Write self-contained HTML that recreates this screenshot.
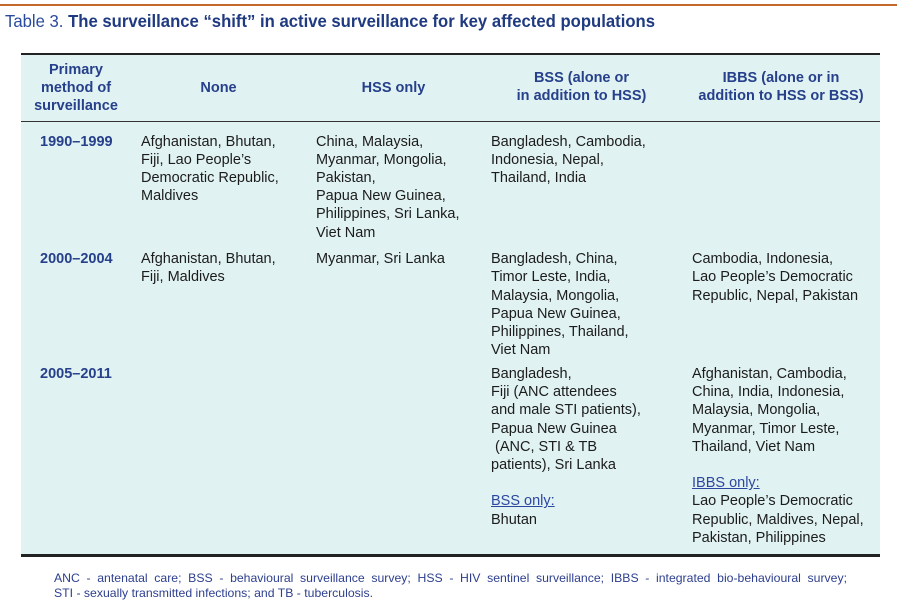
<!DOCTYPE html>
<html>
<head>
<meta charset="utf-8">
<style>
  html,body{margin:0;padding:0;background:#fff;}
  body{width:904px;height:605px;position:relative;overflow:hidden;font-family:"Liberation Sans",Arial,sans-serif;}
  .abs{position:absolute;white-space:nowrap;}
  #orange{left:0;top:4px;width:897px;height:2px;background:#c4692b;}
  #title{left:5px;top:11px;font-size:17.5px;line-height:20px;transform-origin:0 0;transform:scaleX(0.82);}
  #title .reg{color:#2a4b9b;font-weight:normal;}
  #title .b{color:#1f3a80;font-weight:bold;}
  #tbl{left:21px;top:53px;width:859px;height:504px;background:#e1f2f2;}
  .line{position:absolute;left:21px;width:859px;background:#222;}
  .hd{position:absolute;font-size:14.5px;line-height:18px;font-weight:bold;color:#26408b;text-align:center;white-space:nowrap;}
  .cell{position:absolute;font-size:14.5px;line-height:18.2px;color:#1c1c1c;white-space:nowrap;}
  .yr{position:absolute;font-size:14.5px;line-height:18.2px;color:#26408b;font-weight:bold;white-space:nowrap;left:40px;}
  .u{color:#2c47a0;text-decoration:underline;}
  .fn{position:absolute;left:54px;font-size:12px;line-height:14.6px;color:#2d3f8e;white-space:nowrap;transform-origin:0 0;}
  #fn1{top:571px;width:911px;white-space:normal;text-align:justify;text-align-last:justify;transform:scaleX(0.87);}
  #fn2{top:585.6px;transform:scaleX(0.87);}
</style>
</head>
<body>
<div class="abs" id="orange"></div>
<div class="abs" id="title"><span class="reg">Table 3. </span><span class="b">The surveillance “shift” in active surveillance for key affected populations</span></div>

<div class="abs" id="tbl"></div>
<div class="line" style="top:53px;height:2px;"></div>
<div class="line" style="top:120.5px;height:1.5px;background:#333;"></div>
<div class="line" style="top:554px;height:2.5px;"></div>

<!-- header -->
<div class="hd" style="left:21px;width:110px;top:61px;">Primary<br>method of<br>surveillance</div>
<div class="hd" style="left:131px;width:175px;top:79.3px;">None</div>
<div class="hd" style="left:306px;width:175px;top:79.3px;">HSS only</div>
<div class="hd" style="left:481px;width:201px;top:69.3px;">BSS (alone or<br>in addition to HSS)</div>
<div class="hd" style="left:682px;width:198px;top:69.3px;">IBBS (alone or in<br>addition to HSS or BSS)</div>

<!-- row 1 -->
<div class="yr" style="top:132.6px;">1990–1999</div>
<div class="cell" style="left:141px;top:132.6px;">Afghanistan, Bhutan,<br>Fiji, Lao People’s<br>Democratic Republic,<br>Maldives</div>
<div class="cell" style="left:316px;top:132.6px;">China, Malaysia,<br>Myanmar, Mongolia,<br>Pakistan,<br>Papua New Guinea,<br>Philippines, Sri Lanka,<br>Viet Nam</div>
<div class="cell" style="left:491px;top:132.6px;">Bangladesh, Cambodia,<br>Indonesia, Nepal,<br>Thailand, India</div>

<!-- row 2 -->
<div class="yr" style="top:250.2px;">2000–2004</div>
<div class="cell" style="left:141px;top:250.2px;">Afghanistan, Bhutan,<br>Fiji, Maldives</div>
<div class="cell" style="left:316px;top:250.2px;">Myanmar, Sri Lanka</div>
<div class="cell" style="left:491px;top:250.2px;">Bangladesh, China,<br>Timor Leste, India,<br>Malaysia, Mongolia,<br>Papua New Guinea,<br>Philippines, Thailand,<br>Viet Nam</div>
<div class="cell" style="left:692px;top:250.2px;">Cambodia, Indonesia,<br>Lao People’s Democratic<br>Republic, Nepal, Pakistan</div>

<!-- row 3 -->
<div class="yr" style="top:364.9px;">2005–2011</div>
<div class="cell" style="left:491px;top:364.9px;">Bangladesh,<br>Fiji (ANC attendees<br>and male STI patients),<br>Papua New Guinea<br>&nbsp;(ANC, STI &amp; TB<br>patients), Sri Lanka<br>&nbsp;<br><span class="u">BSS only:</span><br>Bhutan</div>
<div class="cell" style="left:692px;top:364.9px;">Afghanistan, Cambodia,<br>China, India, Indonesia,<br>Malaysia, Mongolia,<br>Myanmar, Timor Leste,<br>Thailand, Viet Nam<br>&nbsp;<br><span class="u">IBBS only:</span><br>Lao People’s Democratic<br>Republic, Maldives, Nepal,<br>Pakistan, Philippines</div>

<!-- footnote -->
<div class="fn" id="fn1">ANC - antenatal care; BSS - behavioural surveillance survey; HSS - HIV sentinel surveillance; IBBS - integrated bio-behavioural survey;</div>
<div class="fn" id="fn2">STI - sexually transmitted infections; and TB - tuberculosis.</div>

<script>
(function(){
  try{
    var t=document.getElementById('title');
    t.style.transform='none';
    var w=t.getBoundingClientRect().width;
    if(w>0){t.style.transform='scaleX('+(650/w)+')';}
    var f2=document.getElementById('fn2');
    f2.style.transform='none';
    var w2=f2.getBoundingClientRect().width;
    if(w2>0){
      var s=319/w2;
      f2.style.transform='scaleX('+s+')';
      var f1=document.getElementById('fn1');
      f1.style.width=(793/s)+'px';
      f1.style.transform='scaleX('+s+')';
    }
  }catch(e){}
})();
</script>
</body>
</html>
